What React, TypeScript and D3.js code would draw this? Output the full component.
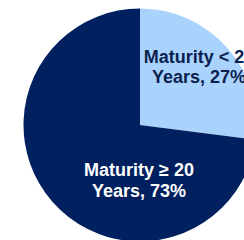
import React from "react";
import * as d3 from "d3";

const categories = ["Maturity < 20 Years", "Maturity ≥ 20 Years"];
const values = [27, 73];
const labelLines = [
  ["Maturity < 20", "Years, 27%"],
  ["Maturity ≥ 20", "Years, 73%"],
];
const colors = ["#A9D3FD", "#00205F"];
const textColors = ["#0B1F4F", "#FFFFFF"];

export default function App() {
  const W = 244, H = 240;
  const cx = 140, cy = 125, r = 116.5;
  const pie = d3.pie<number>().sort(null).value((d) => d)(values);
  const arc = d3.arc<d3.PieArcDatum<number>>().innerRadius(0).outerRadius(r);
  const labelPos = [
    [199, 62.5],
    [139, 176.3],
  ];
  return (
    <svg width={W} height={H} style={{ position: "absolute", left: 0, top: 0 }}>
      <rect width={W} height={H} fill="#fff" />
      <g transform={`translate(${cx},${cy})`}>
        {pie.map((p, i) => (
          <path key={categories[i]} d={arc(p) || ""} fill={colors[i]} />
        ))}
      </g>
      {labelLines.map((lines, i) => (
        <text
          key={i}
          x={labelPos[i][0]}
          y={labelPos[i][1]}
          textAnchor="middle"
          fontFamily="'Liberation Sans', Arial, sans-serif"
          fontWeight="bold"
          fontSize={18}
          fill={textColors[i]}
        >
          {lines.map((l, j) => (
            <tspan key={j} x={labelPos[i][0]} dy={j === 0 ? 0 : 20.3}>
              {l}
            </tspan>
          ))}
        </text>
      ))}
    </svg>
  );
}
